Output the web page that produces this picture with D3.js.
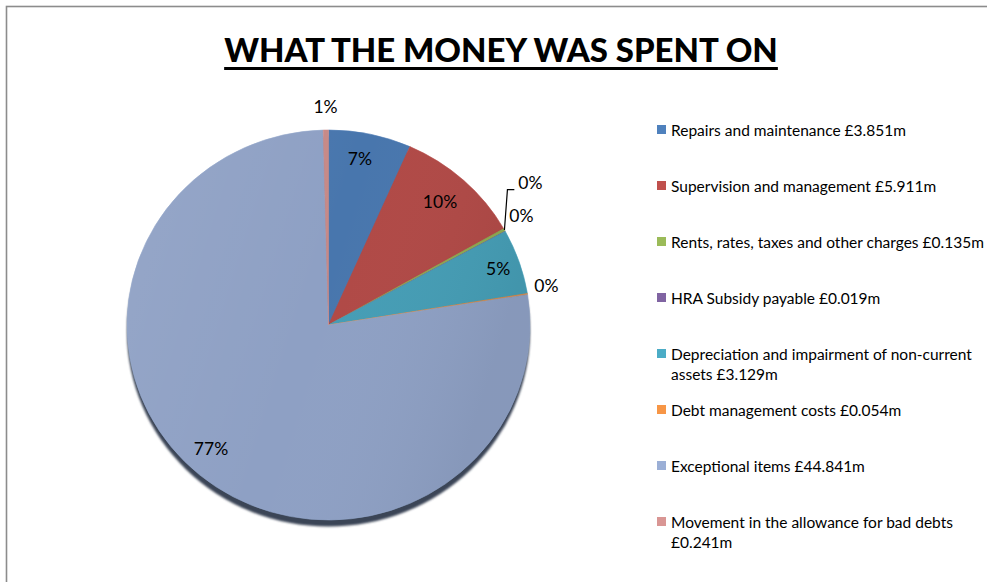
<!DOCTYPE html>
<html>
<head>
<meta charset="utf-8">
<script src="https://cdn.jsdelivr.net/npm/d3@7"></script>
<style>
  html, body { margin: 0; padding: 0; background: #fff; }
  svg { display: block; }
  text { font-family: Lato, "Open Sans", "Liberation Sans", sans-serif; fill: #000; }
</style>
</head>
<body>
<svg id="chart" width="987" height="582"></svg>
<script>
// Housing Revenue Account expenditure, £m
const categories = [
  "Repairs and maintenance",
  "Supervision and management",
  "Rents, rates, taxes and other charges",
  "HRA Subsidy payable",
  "Depreciation and impairment of non-current assets",
  "Debt management costs",
  "Exceptional items",
  "Movement in the allowance for bad debts"
];
const values = [3.851, 5.911, 0.135, 0.019, 3.129, 0.054, 44.841, 0.241];
const valueLabels = ["£3.851m", "£5.911m", "£0.135m", "£0.019m", "£3.129m", "£0.054m", "£44.841m", "£0.241m"];
const pctLabels = ["7%", "10%", "0%", "0%", "5%", "0%", "77%", "1%"];
const colors = ["#4F81BD", "#C0504D", "#9BBB59", "#8064A2", "#4BACC6", "#F79646", "#9BAFD6", "#D99694"];
const title = "WHAT THE MONEY WAS SPENT ON";

const svg = d3.select("#chart");
const W = 987, H = 582;

// outer frame (runs off the right and bottom edges)
svg.append("rect")
  .attr("x", 6.5).attr("y", 6.5)
  .attr("width", W + 20).attr("height", H + 20)
  .attr("fill", "#fff")
  .attr("stroke", "#8c8c8c").attr("stroke-width", 1.6);

// title, sized to its column and underlined
const titleText = svg.append("text")
  .attr("x", 501).attr("y", 62)
  .attr("text-anchor", "middle")
  .attr("font-weight", 900)
  .attr("font-size", 34)
  .text(title);
{
  const w = titleText.node().getComputedTextLength();
  titleText.attr("font-size", 34 * 554 / w);
  const bb = titleText.node().getBBox();
  svg.append("line")
    .attr("x1", bb.x).attr("x2", bb.x + bb.width)
    .attr("y1", 68.5).attr("y2", 68.5)
    .attr("stroke", "#000").attr("stroke-width", 3);
}

// pie geometry
const cx = 328.5, cy = 325, R = 195, rx = 201.5;
const sx = rx / R;

const defs = svg.append("defs");
const shade = defs.append("linearGradient")
  .attr("id", "shade").attr("x1", "0%").attr("x2", "100%").attr("y1", "0%").attr("y2", "30%");
shade.append("stop").attr("offset", "0%").attr("stop-color", "#fff").attr("stop-opacity", 0.07);
shade.append("stop").attr("offset", "55%").attr("stop-color", "#fff").attr("stop-opacity", 0);
shade.append("stop").attr("offset", "100%").attr("stop-color", "#000").attr("stop-opacity", 0.05);
defs.append("filter").attr("id", "soft")
  .append("feGaussianBlur").attr("stdDeviation", 0.8);

const pie = d3.pie().sort(null).value(d => d).startAngle(0).endAngle(2 * Math.PI);
const arcs = pie(values);
const arc = d3.arc().innerRadius(0).outerRadius(R);

const pieG = svg.append("g").attr("transform", `translate(${cx},${cy}) scale(${sx},1)`);

// bevel shadow under the disc
pieG.append("ellipse")
  .attr("cx", 0).attr("cy", 6.5).attr("rx", R).attr("ry", R)
  .attr("fill", "#3a4456")
  .attr("filter", "url(#soft)");

pieG.selectAll("path.slice")
  .data(arcs)
  .join("path")
  .attr("class", "slice")
  .attr("d", arc)
  .attr("fill", (d, i) => d3.color(colors[i]).darker(0.25))
  .attr("stroke", (d, i) => d3.color(colors[i]).darker(0.15))
  .attr("stroke-width", 0.6);

pieG.append("circle").attr("r", R).attr("fill", "url(#shade)");

// data labels: radial factor and angular nudge (degrees) per slice
const labelPlace = [
  { k: 0.87, da: -1.6 },
  { k: 0.84, da: -0.9 },
  { k: 1.24, da: -6.9, leader: true },
  { k: 1.11, da: -1.7 },
  { k: 0.89, da: 0 },
  { k: 1.10, da: -1.4 },
  { k: 0.86, da: 2.9 },
  { k: 1.12, da: 0 }
];
const toXY = (ang, k) => [cx + Math.sin(ang) * k * rx, cy - Math.cos(ang) * k * R];

arcs.forEach((d, i) => {
  const mid = (d.startAngle + d.endAngle) / 2;
  const p = labelPlace[i];
  const [x, y] = toXY(mid + p.da * Math.PI / 180, p.k);
  const t = svg.append("text")
    .attr("x", x).attr("y", y)
    .attr("text-anchor", "middle")
    .attr("dominant-baseline", "central")
    .attr("font-size", 17.5)
    .text(pctLabels[i]);
  if (p.leader) {
    const bb = t.node().getBBox();
    const [ex, ey] = toXY(mid, 1.0);
    const ly = y + 7;
    svg.append("path")
      .attr("d", `M${ex},${ey} L${ex + 3},${ly} L${bb.x - 4},${ly}`)
      .attr("fill", "none").attr("stroke", "#000").attr("stroke-width", 1.2);
  }
});

// legend
const legX = 657, legTextX = 671, legY0 = 130, legStep = 56, lineH = 20;
let legFont = 14;
{
  const probe = svg.append("text").attr("font-size", legFont).text(categories[0] + " " + valueLabels[0]);
  legFont = legFont * 235 / probe.node().getComputedTextLength();
  probe.remove();
}
const maxW = 318;
const legend = svg.append("g");
categories.forEach((c, i) => {
  const y = legY0 + i * legStep;
  legend.append("rect")
    .attr("x", legX).attr("y", y - 5).attr("width", 9).attr("height", 9)
    .attr("fill", colors[i]);
  const t = legend.append("text")
    .attr("x", legTextX).attr("y", y)
    .attr("dominant-baseline", "central")
    .attr("font-size", legFont);
  // word-wrap the entry to the legend column width
  const words = (c + " " + valueLabels[i]).split(" ");
  let line = [], lineNo = 0;
  let ts = t.append("tspan").attr("x", legTextX).attr("y", y);
  words.forEach(w => {
    line.push(w);
    ts.text(line.join(" "));
    if (ts.node().getComputedTextLength() > maxW && line.length > 1) {
      line.pop();
      ts.text(line.join(" "));
      line = [w];
      lineNo++;
      ts = t.append("tspan").attr("x", legTextX).attr("y", y + lineNo * lineH).text(w);
    }
  });
});
</script>
</body>
</html>
